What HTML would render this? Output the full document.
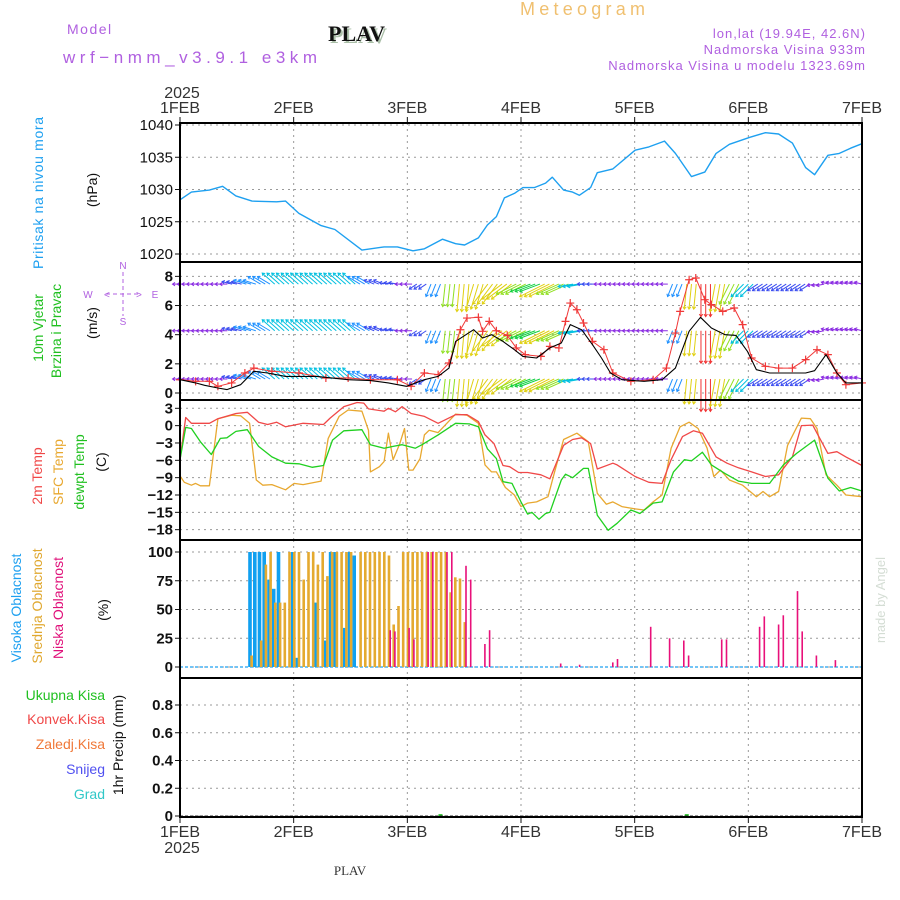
<!DOCTYPE html>
<html><head><meta charset="utf-8">
<style>
html,body{margin:0;padding:0;background:#fff;}
svg{display:block;font-family:"Liberation Sans",sans-serif;}
</style></head>
<body>
<svg id="chart" width="900" height="900" viewBox="0 0 900 900">
  <g id="header">
    <text x="67" y="34" fill="#b060e0" font-size="14" letter-spacing="1.5">Model</text>
    <text x="63" y="63" fill="#b060e0" font-size="17" textLength="254">wrf−nmm_v3.9.1 e3km</text>
    <text x="330" y="43" fill="#aabfa8" font-size="22" font-weight="bold" font-family="Liberation Serif,serif">PLAV</text>
    <text x="328" y="41" fill="#111" font-size="22" font-weight="bold" font-family="Liberation Serif,serif">PLAV</text>
    <text x="520" y="15" fill="#f0c070" font-size="18" textLength="125">Meteogram</text>
    <text x="866" y="38" fill="#b060e0" font-size="13" text-anchor="end" letter-spacing="1">lon,lat (19.94E, 42.6N)</text>
    <text x="866" y="54" fill="#b060e0" font-size="13" text-anchor="end" letter-spacing="1">Nadmorska Visina 933m</text>
    <text x="866" y="70" fill="#b060e0" font-size="13" text-anchor="end" letter-spacing="1">Nadmorska Visina u modelu 1323.69m</text>
    <text x="182" y="98" fill="#333" font-size="16" text-anchor="middle">2025</text>
    <text x="350" y="875" fill="#333" font-size="13" font-family="Liberation Serif,serif" text-anchor="middle">PLAV</text>
    <text x="182" y="853" fill="#333" font-size="16" text-anchor="middle">2025</text>
  </g>
  <g id="left-labels" font-size="14">
    <text transform="translate(43,193) rotate(-90)" text-anchor="middle" fill="#1ea0f0" textLength="152">Pritisak na nivou mora</text>
    <text transform="translate(97,190) rotate(-90)" text-anchor="middle" fill="#111">(hPa)</text>
    <text transform="translate(43,328) rotate(-90)" text-anchor="middle" fill="#20c020">10m Vjetar</text>
    <text transform="translate(61,331) rotate(-90)" text-anchor="middle" fill="#20c020">Brzina i Pravac</text>
    <text transform="translate(97,323) rotate(-90)" text-anchor="middle" fill="#111">(m/s)</text>
    <text transform="translate(42,476) rotate(-90)" text-anchor="middle" fill="#f04848">2m Temp</text>
    <text transform="translate(63,472) rotate(-90)" text-anchor="middle" fill="#e8a830">SFC Temp</text>
    <text transform="translate(84,472) rotate(-90)" text-anchor="middle" fill="#20c020">dewpt Temp</text>
    <text transform="translate(106,462) rotate(-90)" text-anchor="middle" fill="#111">(C)</text>
    <text transform="translate(21,608) rotate(-90)" text-anchor="middle" fill="#1ea0f0">Visoka Oblacnost</text>
    <text transform="translate(42,606) rotate(-90)" text-anchor="middle" fill="#e0a830">Srednja Oblacnost</text>
    <text transform="translate(63,608) rotate(-90)" text-anchor="middle" fill="#e0107a">Niska Oblacnost</text>
    <text transform="translate(108,610) rotate(-90)" text-anchor="middle" fill="#111">(%)</text>
    <text x="105" y="700" text-anchor="end" fill="#20c020">Ukupna  Kisa</text>
    <text x="105" y="724" text-anchor="end" fill="#f04848">Konvek.Kisa</text>
    <text x="105" y="749" text-anchor="end" fill="#f07838">Zaledj.Kisa</text>
    <text x="105" y="774" text-anchor="end" fill="#5050f0">Snijeg</text>
    <text x="105" y="799" text-anchor="end" fill="#30c8c8">Grad</text>
    <text transform="translate(123,745) rotate(-90)" text-anchor="middle" fill="#111">1hr Precip (mm)</text>
    <text transform="translate(885,600) rotate(-90)" text-anchor="middle" fill="#d4ddd4" font-size="13">made by Angel</text>
  </g>
  <g id="compass" fill="#b060e0" stroke="#b060e0" font-size="10">
    <line x1="106" y1="294" x2="138" y2="294" stroke-dasharray="4,3" stroke-width="1"/>
    <line x1="123" y1="272" x2="123" y2="316" stroke-dasharray="4,3" stroke-width="1"/>
    <text x="123" y="269" text-anchor="middle" stroke="none">N</text>
    <text x="123" y="325" text-anchor="middle" stroke="none">S</text>
    <text x="88" y="298" text-anchor="middle" stroke="none">W</text>
    <text x="155" y="298" text-anchor="middle" stroke="none">E</text>
    <text x="104" y="298" stroke="none">&lt;</text>
    <text x="136" y="298" stroke="none">&gt;</text>
  </g>
  <g id="grid"></g>
  <g id="marks"></g>
  <g id="axes"></g>
</svg>
<script>
// ---- data ----
const dayLabels = ["1FEB","2FEB","3FEB","4FEB","5FEB","6FEB","7FEB"];
const presTicks = [1020,1025,1030,1035,1040];
const windTicks = [0,2,4,6,8];
const tempTicks = [-18,-15,-12,-9,-6,-3,0,3];
const cloudTicks = [0,25,50,75,100];
const precipTicks = [0,0.2,0.4,0.6,0.8];

const presH = [0,2.4,6.2,9.0,11.8,15.2,20.4,22.3,25.1,29.8,32.7,38.4,43.1,45.9,49.2,51.6,55.4,58.2,60.1,63.0,64.9,66.8,68.5,70.6,72.4,74.8,77.2,78.6,81.0,82.9,84.3,86.7,88.1,91.4,96.1,99.0,102.3,104.6,108.0,110.8,113.2,116.0,120.3,123.6,126.4,129.3,132.1,134.0,136.8,139.2,141.6,144];
const presV = [1028.4,1029.6,1029.9,1030.5,1029,1028.2,1028.1,1028.2,1026.3,1024.4,1023.8,1020.6,1021.1,1021.1,1020.5,1020.8,1022.3,1021.6,1021.4,1022.5,1024.5,1025.8,1028.7,1029.4,1030.3,1030.3,1031,1031.9,1029.9,1029.6,1029.1,1030.3,1032.6,1033.2,1036.1,1036.6,1037.5,1035.6,1032,1032.7,1035.6,1037,1038.1,1038.8,1038.6,1037.2,1033.4,1032.3,1035.3,1035.6,1036.4,1037.1];

const windH = [0,3.3,5.2,8.0,9.9,12.8,15.6,18.5,22.3,28.9,35.5,40.2,44.0,47.8,51.6,54.5,56.8,58.2,62.0,63.9,65.8,68.2,70.6,72.4,75.3,78.1,80.5,82.4,84.8,87.1,89.0,90.9,93.3,98.0,101.8,104.6,107.5,109.9,112.2,115.1,117.4,119.8,121.7,124.5,128.3,132.1,134.0,136.4,138.7,140.6,144];
const windV = [0.91,0.69,0.53,0.34,0.23,0.57,1.49,1.37,1.14,1.14,0.91,0.85,0.69,0.46,0.91,1.14,1.71,3.54,4.34,3.77,4.0,3.54,2.97,2.51,2.4,3.09,3.43,4.69,4.34,3.31,2.4,1.37,0.91,0.8,0.91,1.71,4.23,5.19,4.46,4.0,3.95,2.86,1.6,1.37,1.37,1.37,1.53,2.63,1.37,0.69,0.69];
const gustH = [0,3.3,6.2,8.0,10.9,13.7,15.6,19.4,25.1,30.8,35.5,40.2,45.9,48.8,51.6,54.5,56.8,59.2,60.6,63.0,63.9,65.3,66.8,69.1,71.0,72.9,76.2,78.1,80.0,81.4,82.4,83.8,85.2,87.1,89.5,91.4,95.2,99.9,102.7,104.6,105.6,107.5,108.9,110.8,112.2,114.6,117.0,118.8,120.7,123.6,126.4,129.3,132.1,134.5,136.8,138.7,140.6,144];
const gustV = [0.91,0.8,0.8,0.46,0.69,1.37,1.71,1.49,1.37,1.03,1.03,0.91,0.91,0.46,1.37,1.26,2.06,4.34,5.14,5.19,4.23,4.91,4.27,3.95,3.09,2.63,2.51,3.2,3.09,4.91,6.17,5.71,4.8,3.54,2.97,1.37,0.8,0.91,1.71,4.11,5.6,7.77,7.89,6.4,6.06,5.6,5.83,4.69,2.4,1.83,1.71,1.71,2.29,2.97,2.63,1.37,0.57,0.69];

// wind vectors every 3 h (u: east, v: north)
const vecH = [0,3,6,9,12,15,18,21,24,27,30,33,36,39,42,45,48,51,54,57,60,63,66,69,72,75,78,81,84,87,90,93,96,99,102,105,108,111,114,117,120,123,126,129,132,135,138,141,144];
const vecU = [-1.5,-1.5,-1.5,-1.5,-2,-2.5,-2.5,-2.5,-2.5,-2.5,-2.5,-2.5,-2.5,-2.5,-2,-1.8,-1.5,-1.5,-1,-0.5,-0.5,-1.5,-3,-4,-4,-4,-5,-4.5,-3,-2,-1.5,-1.5,-1.5,-1.5,-1.5,-1,-0.5,0,-1,-2,-2.5,-2,-2,-2,-2,-1.5,-1.5,-1.5,-1.5];
const vecV = [0,0,0,0,0.5,0.8,1.5,2.2,2.2,2.2,2.2,2.2,2.2,1.5,0.8,0.3,0,-1,-2.5,-4.5,-5.5,-5,-4,-3,-2,-1.5,-2.5,-2,-0.5,0,0,0,0,0,0,-2.5,-5,-6.5,-5.5,-4,-2.5,-1.3,-1.3,-1.3,-1.3,-0.3,0.4,0.4,0.4];
const vecRows = [0.96,4.27,7.47];

const t2H = [0,1.2,2.4,6.2,8.0,11.8,14.2,16.6,18.5,20.4,22.3,26.0,30.3,31.7,34.6,37.4,38.8,39.8,43.1,44.0,45.5,46.9,48.8,51.6,54.5,58.2,60.6,63.0,64.4,66.3,68.2,69.6,71.5,73.4,76.2,78.1,81.0,82.9,84.8,86.7,88.1,91.4,92.3,96.1,99.0,101.8,103.7,106.1,108.4,110.3,113.2,115.5,117.9,120.7,123.6,126.4,129.3,131.2,133.6,134.5,136.8,138.7,140.6,144];
const t2V = [-5.9,1.4,0.4,0.4,1.2,2.1,2.3,0.6,0.2,0.6,-0.2,0.4,0.2,1.3,3.3,4.0,3.9,2.9,2.5,3.0,2.4,3.3,2.1,1.6,0.4,1.9,1.9,0.7,-1.6,-3.1,-6.9,-7.1,-8.1,-8.1,-8.5,-9.2,-3.4,-2.4,-2.1,-3.1,-7.5,-6.5,-6.8,-8.8,-9.8,-10.0,-5.9,-1.9,-0.9,-1.3,-5.4,-6.5,-7.3,-8.0,-8.8,-8.5,-5.4,0,0.1,-1.3,-4.8,-4.5,-5.4,-6.9];
const sfcH = [0,0.9,2.4,3.3,4.3,6.2,8.0,10.9,12.8,14.7,16.1,17.5,19.4,22.3,24.1,26.0,29.8,31.3,33.6,35.5,38.4,39.8,40.2,42.1,43.1,44.0,45.0,46.4,47.4,48.3,49.2,50.7,51.6,52.6,54.5,58.2,60.6,63.0,64.4,65.8,66.8,68.7,70.6,72.0,73.4,75.3,77.7,79.1,81.0,83.8,86.2,88.1,90.0,91.4,93.3,96.1,98.0,99.9,101.8,103.7,105.6,107.5,109.4,111.3,112.7,114.1,116.0,118.8,121.7,123.1,124.5,126.4,128.3,131.2,133.1,134.5,136.4,138.7,140.6,144];
const sfcV = [-8.7,-9.8,-10.3,-10.0,-10.4,-10.4,1.2,1.8,1.7,0.4,-9.4,-10.3,-10.2,-11.1,-10.0,-10.2,-9.6,-2.2,1.6,2.7,2.5,-0.8,-8.0,-7.1,-6.2,-1.3,-5.9,-3.1,-0.5,-7.7,-7.7,-5.7,-1.6,-0.8,-1.2,2.0,1.8,0.4,-6.8,-8.0,-8.0,-10.7,-12.0,-14.0,-13.4,-13.2,-12.3,-8.0,-2.4,-1.3,-2.8,-11.7,-13.6,-13.2,-14.0,-14.4,-14.6,-13.2,-12.0,-3.9,-0.2,0.6,-0.5,-3.9,-8.8,-7.7,-9.4,-10.3,-12.3,-11.4,-12.3,-11.4,-3.4,1.3,1.2,-0.5,-8.5,-10.3,-12.0,-12.3];
const dewH = [0,1.2,2.4,4.3,6.6,8.5,9.9,11.8,14.2,16.6,19.4,22.3,25.1,27.9,30.3,32.2,34.6,38.4,40.2,43.1,45.0,46.9,49.7,51.1,54.5,58.2,61.1,63.0,64.9,66.8,68.2,70.1,72.0,73.4,74.3,75.8,77.2,78.1,80.5,81.4,82.9,85.2,86.2,88.1,90.4,92.3,95.2,97.1,99.9,101.8,104.2,106.5,108.0,110.3,112.2,115.1,117.9,120.7,124.5,127.4,130.2,134.0,136.8,139.2,141.6,144];
const dewV = [-5.9,-0.3,-0.5,-2.8,-5.0,-2.2,-2.1,-1.0,-0.7,-3.6,-5.4,-6.5,-6.6,-7.2,-6.9,-2.5,-0.9,-0.7,-3.3,-3.9,-3.6,-3.3,-3.9,-3.3,-1.6,0.4,0.3,-0.2,-4.0,-5.7,-9.7,-10.0,-13.2,-15.3,-15.0,-16.2,-15.2,-15.0,-9.4,-8.4,-9.0,-7.4,-7.4,-15.5,-18.1,-16.9,-14.6,-15.2,-13.4,-13.2,-8.0,-5.9,-6.1,-4.6,-6.8,-8.3,-9.6,-10.0,-10.0,-6.8,-4.8,-2.5,-9.1,-11.3,-10.7,-11.3];

const highH = [15,16,17,18,19,20,21,24,25,29,31,32,33,35,36,37];
const highV = [100,100,100,100,76,68,100,100,8,56,23,100,100,34,100,97];
const midH = [15,17,18,19,20,21,22,23,24,25,26,27,28,29,30,31,32,33,34,35,36,38,39,40,41,42,43,44,45,46,47,48,49,50,51,52,53,54,55,56,57,58,59,60];
const midV = [10,23,89,100,56,56,56,100,100,100,76,100,100,89,100,79,100,100,100,100,100,100,100,100,100,100,100,97,37,53,100,100,100,100,100,100,100,100,100,100,65,78,77,39];
const lowH = [44,45,48,49,52,53,56,57,60,61,64,65,80,84,91,92,99,103,106,107,114,115,122,123,126,127,130,131,134,138];
const lowV = [32,31,34,24,100,100,100,100,88,76,20,32,3,2,4,7,35,25,23,10,24,24,35,44,37,45,66,31,10,6];

const precipH = [55,107];
const precipV = [0.006,0.006];

// ---- scales ----
const L = 180, R = 862;
const X = h => L + h * (R - L) / 144;
const yP = v => 125 + (1040 - v) * 6.45;
const yW = v => 393 - v * 14.58;
const yT = v => 408.3 + (3 - v) * 5.78;
const yC = v => 667 - v * 1.15;
const yR = v => 816 - v * 138.75;

const NS = "http://www.w3.org/2000/svg";
function mk(tag, parent, attrs) {
  const e = document.createElementNS(NS, tag);
  for (const k in attrs) e.setAttribute(k, attrs[k]);
  parent.appendChild(e);
  return e;
}
const grid = document.getElementById('grid');
const marks = document.getElementById('marks');
const axes = document.getElementById('axes');

const panels = [
  {top:123,bot:262,ticks:presTicks,y:yP,fmt:v=>String(v),bold:false,name:'pressure'},
  {top:262,bot:400,ticks:windTicks,y:yW,fmt:v=>String(v),bold:true,name:'wind'},
  {top:400,bot:540,ticks:tempTicks,y:yT,fmt:v=>(v<0?'\u2212'+(-v):String(v)),bold:true,name:'temp'},
  {top:540,bot:678,ticks:cloudTicks,y:yC,fmt:v=>String(v),bold:true,name:'cloud'},
  {top:678,bot:817,ticks:precipTicks,y:yR,fmt:v=>(v===0?'0':v.toFixed(1)),bold:true,name:'precip'}
];

panels.forEach(p => {
  for (let d = 1; d < 6; d++) {
    const l = mk('line', grid, {x1:X(d*24),x2:X(d*24),y1:p.top,y2:p.bot,stroke:'#9a9a9a','stroke-width':1,'stroke-dasharray':'2,4'});
    
    
  }
  p.ticks.forEach(t => {
    const y = p.y(t);
    const g = mk('line', grid, {x1:L,x2:R,y1:y,y2:y,stroke:'#9a9a9a','stroke-width':1,'stroke-dasharray':'2,4'});
    
    
    const tk = mk('line', axes, {x1:L-5,x2:L,y1:y,y2:y,stroke:'#111','stroke-width':1});
    
    
    const tx = mk('text', axes, {x:L-7,y:y+5,'text-anchor':'end','font-size':15,fill:'#111','font-weight':p.bold?'bold':'normal'});
    tx.textContent = p.fmt(t);
    
    
  });
});

dayLabels.forEach((lab, i) => {
  const x = X(i*24);
  const t1 = mk('text', axes, {x:x,y:113,'text-anchor':'middle','font-size':16,fill:'#333'});
  t1.textContent = lab;
  
  
  const t2 = mk('text', axes, {x:x,y:837,'text-anchor':'middle','font-size':16,fill:'#333'});
  t2.textContent = lab;
  
  
  const a = mk('line', axes, {x1:x,x2:x,y1:117,y2:123,stroke:'#111'});
  
  
  const b = mk('line', axes, {x1:x,x2:x,y1:817,y2:823,stroke:'#111'});
  
  
});

function line(hs, vs, yf, color, w, name) {
  const d = hs.map((h,i) => (i?'L':'M') + X(h).toFixed(1) + ',' + yf(vs[i]).toFixed(1)).join('');
  const p = mk('path', marks, {d:d,fill:'none',stroke:color,'stroke-width':w,'stroke-linejoin':'round'});
  
  
  return p;
}

line(presH, presV, yP, '#1ea0f0', 1.4, 'pressure-line');

function speedColor(m) {
  if (m < 1.8) return '#8a2be2';
  if (m < 2.4) return '#3a4cf0';
  if (m < 3.0) return '#1e90ff';
  if (m < 3.6) return '#00c0e0';
  if (m < 4.3) return '#10d040';
  if (m < 5.0) return '#90e020';
  if (m < 5.6) return '#e0d010';
  if (m < 6.2) return '#f09020';
  return '#f03030';
}
const fanOffsets = [-1, 0, 1];
vecRows.forEach(r => {
  const y0 = yW(r);
  vecH.forEach((h, i) => {
    const u = vecU[i], v = vecV[i];
    const m = Math.sqrt(u*u + v*v);
    const c = speedColor(m);
    fanOffsets.forEach(o => {
      const hh = h + o;
      if (hh < 0 || hh > 144) return;
      const x0 = X(hh);
      const x1 = x0 + u*5, y1 = y0 - v*5;
      const ln = mk('line', marks, {x1:x0,y1:y0,x2:x1,y2:y1,stroke:c,'stroke-width':1});
      
      
      const ang = Math.atan2(y1-y0, x1-x0);
      const hd = 3;
      const pth = 'M' + (x1 - hd*Math.cos(ang-0.6)).toFixed(1) + ',' + (y1 - hd*Math.sin(ang-0.6)).toFixed(1) +
        'L' + x1.toFixed(1) + ',' + y1.toFixed(1) + 'L' + (x1 - hd*Math.cos(ang+0.6)).toFixed(1) + ',' + (y1 - hd*Math.sin(ang+0.6)).toFixed(1);
      const hp = mk('path', marks, {d:pth,fill:'none',stroke:c,'stroke-width':1});
      
      
    });
  });
});
line(gustH, gustV, yW, '#f03838', 1, 'gust-line');
gustH.forEach((h, i) => {
  const x = X(h), y = yW(gustV[i]);
  const p = mk('path', marks, {d:`M${x-4},${y}H${x+4}M${x},${y-4}V${y+4}`,stroke:'#f03838','stroke-width':1.2,fill:'none'});
  
  
});
line(windH, windV, yW, '#000', 1.1, 'wind-speed-line');

line(sfcH, sfcV, yT, '#e8a830', 1.3, 'sfc-temp-line');
line(t2H, t2V, yT, '#f04848', 1.3, '2m-temp-line');
line(dewH, dewV, yT, '#20d020', 1.3, 'dewpoint-line');

const c0 = mk('line', marks, {x1:L,x2:R,y1:yC(0),y2:yC(0),stroke:'#1ea0f0','stroke-width':1.2,'stroke-dasharray':'3,2'});


function bars(hs, vs, color, off, w, name) {
  hs.forEach((h, i) => {
    const x = X(h) + off;
    const r = mk('rect', marks, {x:(x - w/2).toFixed(1), y:yC(vs[i]).toFixed(1), width:w, height:(yC(0)-yC(vs[i])).toFixed(1), fill:color});
    
    
  });
}
bars(highH, highV, '#10a0f0', -1, 3.6, 'high-cloud-bar');
bars(midH, midV, '#e4aa30', 0.6, 2.6, 'mid-cloud-bar');
bars(lowH, lowV, '#e8107a', 1.8, 1.6, 'low-cloud-bar');

precipH.forEach((h, i) => {
  const r = mk('rect', marks, {x:X(h)-2, y:yR(precipV[i])-1, width:4, height:(yR(0)-yR(precipV[i]))+1, fill:'#20c020'});
  
  
});
const pb = mk('line', marks, {x1:L,x2:R,y1:816,y2:816,stroke:'#333','stroke-width':1,'stroke-dasharray':'3,2'});



panels.forEach(p => {
  const r = mk('rect', axes, {x:L,y:p.top,width:R-L,height:p.bot-p.top,fill:'none',stroke:'#000','stroke-width':2});
  
  
});
</script>
</body></html>
